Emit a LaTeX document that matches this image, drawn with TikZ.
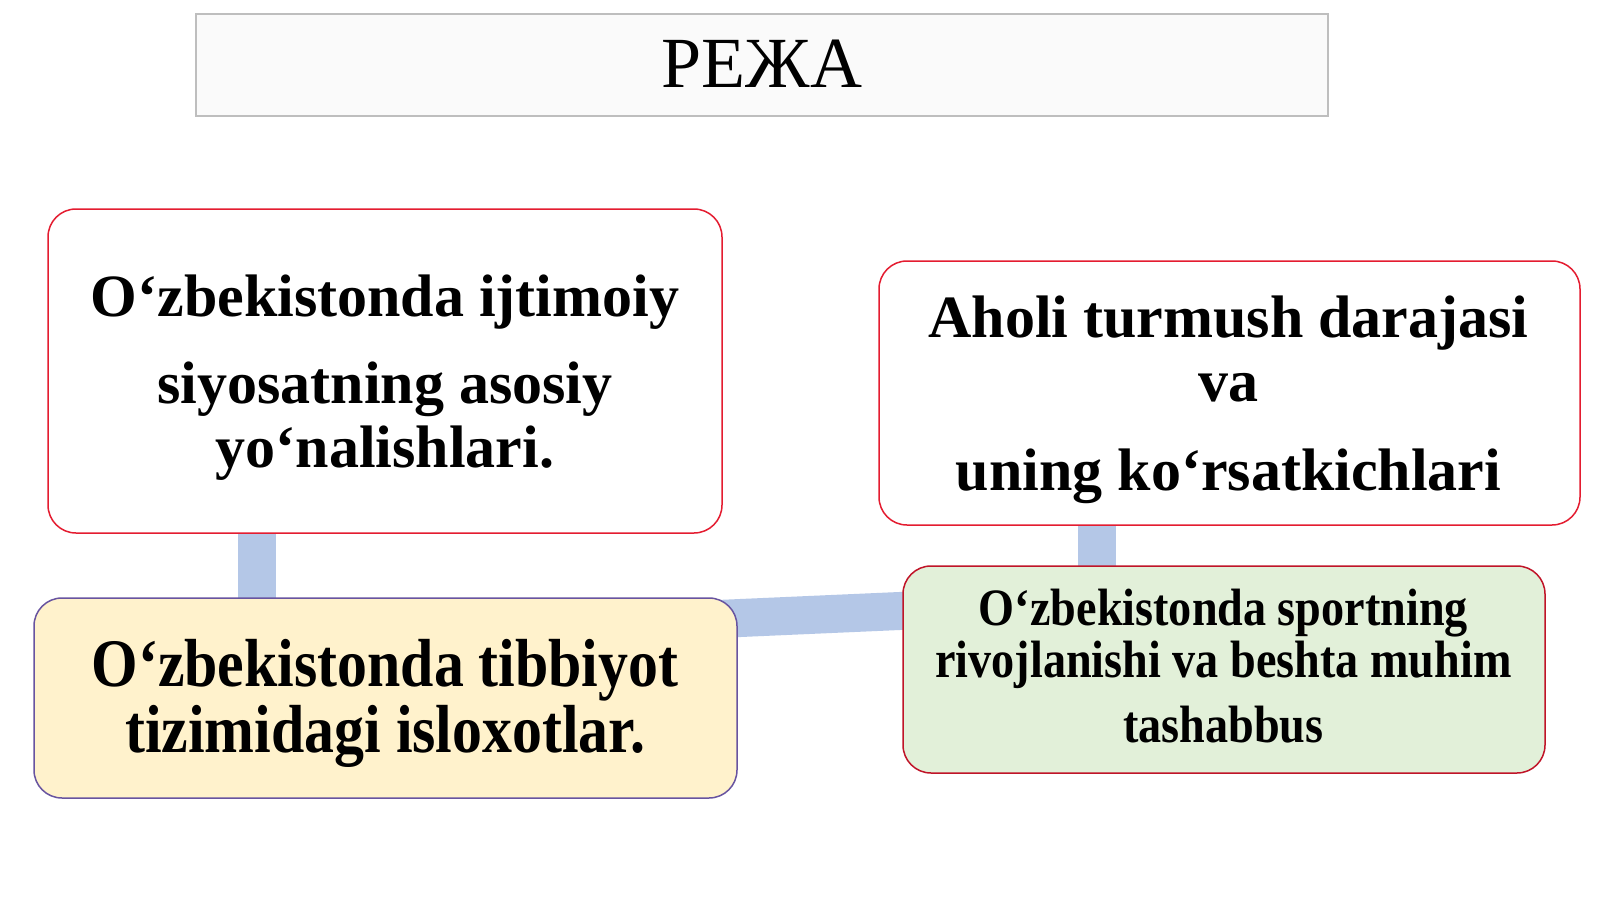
\documentclass[tikz,border=0pt]{standalone}
\usepackage{fontspec}
\setmainfont{Liberation Serif}
\newfontfamily\condfont[FakeStretch=0.88]{Liberation Serif}
\usetikzlibrary{backgrounds}
\definecolor{barblue}{RGB}{180,199,231}
\definecolor{boxred}{RGB}{228,28,48}
\definecolor{darkred}{RGB}{192,20,40}
\definecolor{boxpurple}{RGB}{104,84,160}
\definecolor{yellowfill}{RGB}{255,242,204}
\definecolor{greenfill}{RGB}{226,240,217}
\definecolor{titlefill}{RGB}{250,250,250}
\definecolor{titleline}{RGB}{190,190,190}
\tikzset{
  panel/.style={rounded corners=28pt, line width=1.5pt, inner sep=0pt},
  bar/.style={draw=barblue, line width=38pt},
  bigtext/.style={anchor=base, inner sep=0pt, font=\bfseries\fontsize{60}{60}\selectfont},
  condbig/.style={anchor=base, inner sep=0pt, font=\condfont\bfseries\fontsize{68}{68}\selectfont},
  condmid/.style={anchor=base, inner sep=0pt, font=\condfont\bfseries\fontsize{52.5}{52.5}\selectfont},
}
\begin{document}
\begin{tikzpicture}[x=1pt,y=-1pt]
\useasboundingbox (0,0) rectangle (1600,899);
% title
\node[draw=titleline, fill=titlefill, line width=1.5pt, minimum width=1132pt, minimum height=102pt, inner sep=0pt] (title) at (762,65) {};
\node[anchor=base, inner sep=0pt, font=\fontsize{72}{72}\selectfont] (titletext) at (762,88) {РЕЖА};
% boxes
\node[panel, draw=boxred, fill=white, minimum width=674pt, minimum height=324pt] (box1) at (385,371) {};
\node[panel, draw=boxred, fill=white, minimum width=701pt, minimum height=264pt] (box2) at (1229.5,393) {};
\node[panel, draw=boxpurple, fill=yellowfill, minimum width=703pt, minimum height=200pt] (box3) at (385.5,698) {};
\node[panel, draw=darkred, fill=greenfill, minimum width=642pt, minimum height=207pt] (box4) at (1224,669.5) {};
% connectors
\coordinate (b1x) at (257,0);
\coordinate (b2x) at (1097,0);
\coordinate (b3l) at (0,619);
\coordinate (b3r) at (0,610);
\begin{scope}[on background layer]
\fill[white] (0,0) rectangle (1600,899);
\draw[bar] (box1 -| b1x) -- (box3 -| b1x);
\draw[bar] (box2 -| b2x) -- (box4 -| b2x);
\draw[bar] ([xshift=-20pt]box3.east |- b3l) -- ([xshift=20pt]box4.west |- b3r);
\end{scope}
% texts
\node[bigtext] (t1a) at (385,316) {O‘zbekistonda ijtimoiy};
\node[bigtext] (t1b) at (385,403) {siyosatning asosiy};
\node[bigtext] (t1c) at (385,467) {yo‘nalishlari.};
\node[bigtext] (t2a) at (1228.5,337) {Aholi turmush darajasi};
\node[bigtext] (t2b) at (1228.5,401) {va};
\node[bigtext] (t2c) at (1228.5,490) {uning ko‘rsatkichlari};
\node[condbig] (t3a) at (385,686) {O‘zbekistonda tibbiyot};
\node[condbig] (t3b) at (385,752) {tizimidagi isloxotlar.};
\node[condmid] (t4a) at (1223.5,625) {O‘zbekistonda sportning};
\node[condmid] (t4b) at (1223.5,677) {rivojlanishi va beshta muhim};
\node[condmid] (t4c) at (1223.5,742) {tashabbus};
\end{tikzpicture}
\end{document}
